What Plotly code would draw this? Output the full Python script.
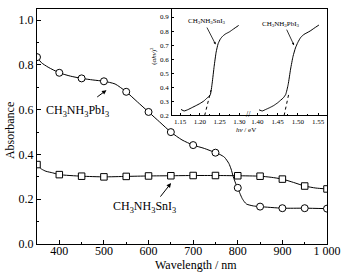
import plotly.graph_objects as go

# ---- main spectra (wavelength in nm, absorbance) ----
pb_wl = [350, 360, 375, 400, 425, 450, 475, 500, 525, 550, 575, 600, 625, 650, 675, 700,
         725, 750, 760, 770, 780, 785, 790, 795, 800, 805, 810, 815, 820, 835, 850, 900, 950, 1000]
pb_abs = [0.835, 0.81, 0.79, 0.765, 0.75, 0.74, 0.733, 0.727, 0.715, 0.68, 0.635, 0.59, 0.545,
          0.50, 0.465, 0.442, 0.427, 0.408, 0.40, 0.388, 0.36, 0.335, 0.30, 0.272, 0.251,
          0.225, 0.203, 0.188, 0.178, 0.17, 0.167, 0.160, 0.160, 0.158]
pb_mark_wl = [350, 400, 450, 500, 550, 600, 650, 700, 750, 800, 850, 900, 950, 1000]
pb_mark_abs = [0.835, 0.765, 0.74, 0.727, 0.68, 0.59, 0.50, 0.442, 0.408, 0.251, 0.167, 0.160, 0.160, 0.158]

sn_wl = [350, 360, 370, 385, 400, 450, 500, 550, 600, 650, 700, 750, 800, 850, 875, 900,
         925, 950, 975, 1000]
sn_abs = [0.355, 0.335, 0.325, 0.318, 0.31, 0.303, 0.300, 0.302, 0.304, 0.305, 0.306, 0.306,
          0.305, 0.303, 0.298, 0.29, 0.275, 0.259, 0.25, 0.246]
sn_mark_wl = [350, 400, 450, 500, 550, 600, 650, 700, 750, 800, 850, 900, 950, 1000]
sn_mark_abs = [0.355, 0.31, 0.303, 0.300, 0.302, 0.304, 0.305, 0.306, 0.306, 0.305, 0.303, 0.29, 0.259, 0.246]

x_tickvals = [400, 500, 600, 700, 800, 900, 1000]
x_ticktext = ["400", "500", "600", "700", "800", "900", "1 000"]

# ---- inset Tauc plots (photon energy eV, (alpha h nu)^2) ----
sn_e = [1.152, 1.160, 1.17, 1.18, 1.19, 1.20, 1.21, 1.218, 1.226, 1.231, 1.236, 1.241, 1.246,
        1.252, 1.258, 1.265, 1.275, 1.285, 1.298]
sn_t = [0.243, 0.232, 0.242, 0.256, 0.27, 0.285, 0.303, 0.324, 0.345, 0.43, 0.55, 0.65, 0.71,
        0.745, 0.765, 0.78, 0.795, 0.815, 0.84]
sn_fit_e = [1.212, 1.228]
sn_fit_t = [0.2, 0.38]

pbi_e = [1.404, 1.412, 1.42, 1.43, 1.44, 1.45, 1.458, 1.464, 1.47, 1.476, 1.482, 1.488, 1.494,
         1.50, 1.507, 1.515, 1.53, 1.54, 1.552]
pbi_t = [0.24, 0.232, 0.242, 0.255, 0.27, 0.29, 0.31, 0.325, 0.35, 0.42, 0.53, 0.62, 0.68,
         0.72, 0.755, 0.776, 0.80, 0.82, 0.843]
pb_fit_e = [1.466, 1.478]
pb_fit_t = [0.2, 0.36]

FONT = "Liberation Serif"
PB = "CH<sub>3</sub>NH<sub>3</sub>PbI<sub>3</sub>"
SN = "CH<sub>3</sub>NH<sub>3</sub>SnI<sub>3</sub>"

fig = go.Figure()
line = dict(color="black", width=1, shape="spline", smoothing=0.6)
fig.add_trace(go.Scatter(x=pb_wl, y=pb_abs, mode="lines", line=line, xaxis="x", yaxis="y"))
fig.add_trace(go.Scatter(x=sn_wl, y=sn_abs, mode="lines", line=line, xaxis="x", yaxis="y"))
fig.add_trace(go.Scatter(x=pb_mark_wl, y=pb_mark_abs, mode="markers",
                         marker=dict(symbol="circle", size=7, color="white",
                                     line=dict(color="black", width=1)), xaxis="x", yaxis="y"))
fig.add_trace(go.Scatter(x=sn_mark_wl, y=sn_mark_abs, mode="markers",
                         marker=dict(symbol="square", size=6.5, color="white",
                                     line=dict(color="black", width=1)), xaxis="x", yaxis="y"))

# inset traces
inline = dict(color="black", width=1, shape="spline", smoothing=0.5)
fig.add_trace(go.Scatter(x=sn_e, y=sn_t, mode="lines", line=inline, xaxis="x2", yaxis="y2"))
fig.add_trace(go.Scatter(x=sn_fit_e, y=sn_fit_t, mode="lines",
                         line=dict(color="black", width=1, dash="dot"), xaxis="x2", yaxis="y2"))
fig.add_trace(go.Scatter(x=pbi_e, y=pbi_t, mode="lines", line=inline, xaxis="x3", yaxis="y2"))
fig.add_trace(go.Scatter(x=pb_fit_e, y=pb_fit_t, mode="lines",
                         line=dict(color="black", width=1, dash="dot"), xaxis="x3", yaxis="y2"))

axfont = dict(family=FONT, size=12, color="black")
infont = dict(family=FONT, size=7, color="black")

inset_x_common = dict(ticks="inside", ticklen=2, tickcolor="black", ticklabelstandoff=-1,
                      showline=True, linecolor="black", linewidth=1, tickformat=".2f",
                      showgrid=False, zeroline=False, tickfont=infont, anchor="y2")

fig.update_layout(
    width=349, height=274,
    margin=dict(l=37, r=14, t=8, b=30),
    paper_bgcolor="white", plot_bgcolor="white",
    showlegend=False,
    hovermode=False,
    font=dict(family=FONT, color="black"),
    xaxis=dict(domain=[0, 1], range=[350, 1000], tickvals=x_tickvals, ticktext=x_ticktext,
               ticks="inside", ticklen=4, tickwidth=1, tickcolor="black", ticklabelstandoff=-4,
               minor=dict(tickvals=[450, 550, 650, 750, 850, 950], ticks="inside", ticklen=2,
                          tickcolor="black"),
               showline=True, linecolor="black", linewidth=1, mirror=True,
               showgrid=False, zeroline=False, tickfont=axfont),
    yaxis=dict(domain=[0, 1], range=[0, 1.05], tickvals=[0, 0.2, 0.4, 0.6, 0.8, 1.0],
               tickformat=".1f", ticks="inside", ticklen=4, tickwidth=1, tickcolor="black",
               minor=dict(tickvals=[0.1, 0.3, 0.5, 0.7, 0.9], ticks="inside", ticklen=2,
                          tickcolor="black"),
               showline=True, linecolor="black", linewidth=1, mirror=True,
               showgrid=False, zeroline=False, tickfont=axfont),
    xaxis2=dict(domain=[0.466, 0.728], range=[1.1296, 1.322],
                tickvals=[1.15, 1.20, 1.25, 1.30],
                minor=dict(tickvals=[1.175, 1.225, 1.275], ticks="inside", ticklen=1.5,
                           tickcolor="black"),
                **inset_x_common),
    xaxis3=dict(domain=[0.728, 1.0], range=[1.377, 1.572],
                tickvals=[1.40, 1.45, 1.50, 1.55],
                minor=dict(tickvals=[1.425, 1.475, 1.525], ticks="inside", ticklen=1.5,
                           tickcolor="black"),
                **inset_x_common),
    yaxis2=dict(domain=[0.547, 1.0], range=[0.2, 0.957], anchor="x2",
                tickvals=[0.2, 0.3, 0.4, 0.5, 0.6, 0.7, 0.8, 0.9], tickformat=".1f",
                ticks="inside", ticklen=2, tickcolor="black", ticklabelstandoff=1,
                showline=True, linecolor="black", linewidth=1,
                showgrid=False, zeroline=False, tickfont=infont),
)

ann = []
# axis titles
ann.append(dict(text="Absorbance", xref="paper", yref="paper", x=-0.091, y=0.483,
                textangle=-90, showarrow=False, font=axfont, xanchor="center", yanchor="middle"))
ann.append(dict(text="Wavelength / nm", xref="paper", yref="paper", x=0.547, y=-0.088,
                showarrow=False, font=axfont, xanchor="center", yanchor="middle"))
# main labels + arrows
ann.append(dict(text=PB, xref="paper", yref="paper", x=0.141, y=0.564, showarrow=False,
                font=axfont, xanchor="center", yanchor="middle"))
ann.append(dict(text="", x=505.7, y=0.6875, ax=481.6, ay=0.652, xref="x", yref="y",
                axref="x", ayref="y", showarrow=True, arrowhead=2, arrowsize=0.9,
                arrowwidth=1, arrowcolor="black"))
ann.append(dict(text=SN, xref="paper", yref="paper", x=0.372, y=0.157, showarrow=False,
                font=axfont, xanchor="center", yanchor="middle"))
ann.append(dict(text="", x=650.4, y=0.272, ax=624, ay=0.205, xref="x", yref="y",
                axref="x", ayref="y", showarrow=True, arrowhead=2, arrowsize=0.9,
                arrowwidth=1, arrowcolor="black"))
# inset titles
ann.append(dict(text="(<i>αhν</i>)<sup>2</sup>", xref="paper", yref="paper", x=0.403, y=0.80,
                textangle=-90, showarrow=False, font=infont, xanchor="center", yanchor="middle"))
ann.append(dict(text="<i>hν</i> / eV", xref="paper", yref="paper", x=0.721, y=0.484,
                showarrow=False, font=infont, xanchor="center", yanchor="middle"))
ann.append(dict(text="//", xref="paper", yref="paper", x=0.728, y=0.553,
                showarrow=False, font=dict(family=FONT, size=8, color="black"),
                xanchor="center", yanchor="middle"))
# inset labels + arrows
ann.append(dict(text=SN, x=1.2175, y=0.871, xref="x2", yref="y2", showarrow=False,
                font=infont, xanchor="center", yanchor="middle"))
ann.append(dict(text="", x=1.2397, y=0.705, ax=1.2158, ay=0.836, xref="x2", yref="y2",
                axref="x2", ayref="y2", showarrow=True, arrowhead=2, arrowsize=0.6,
                arrowwidth=0.8, arrowcolor="black"))
ann.append(dict(text=PB, x=1.4575, y=0.852, xref="x3", yref="y2", showarrow=False,
                font=infont, xanchor="center", yanchor="middle"))
ann.append(dict(text="", x=1.4903, y=0.70, ax=1.4706, ay=0.821, xref="x3", yref="y2",
                axref="x3", ayref="y2", showarrow=True, arrowhead=2, arrowsize=0.6,
                arrowwidth=0.8, arrowcolor="black"))
fig.update_layout(annotations=ann)

fig.write_html("out.html", config={"displayModeBar": False},
               post_script="document.body.style.margin='0px';")
